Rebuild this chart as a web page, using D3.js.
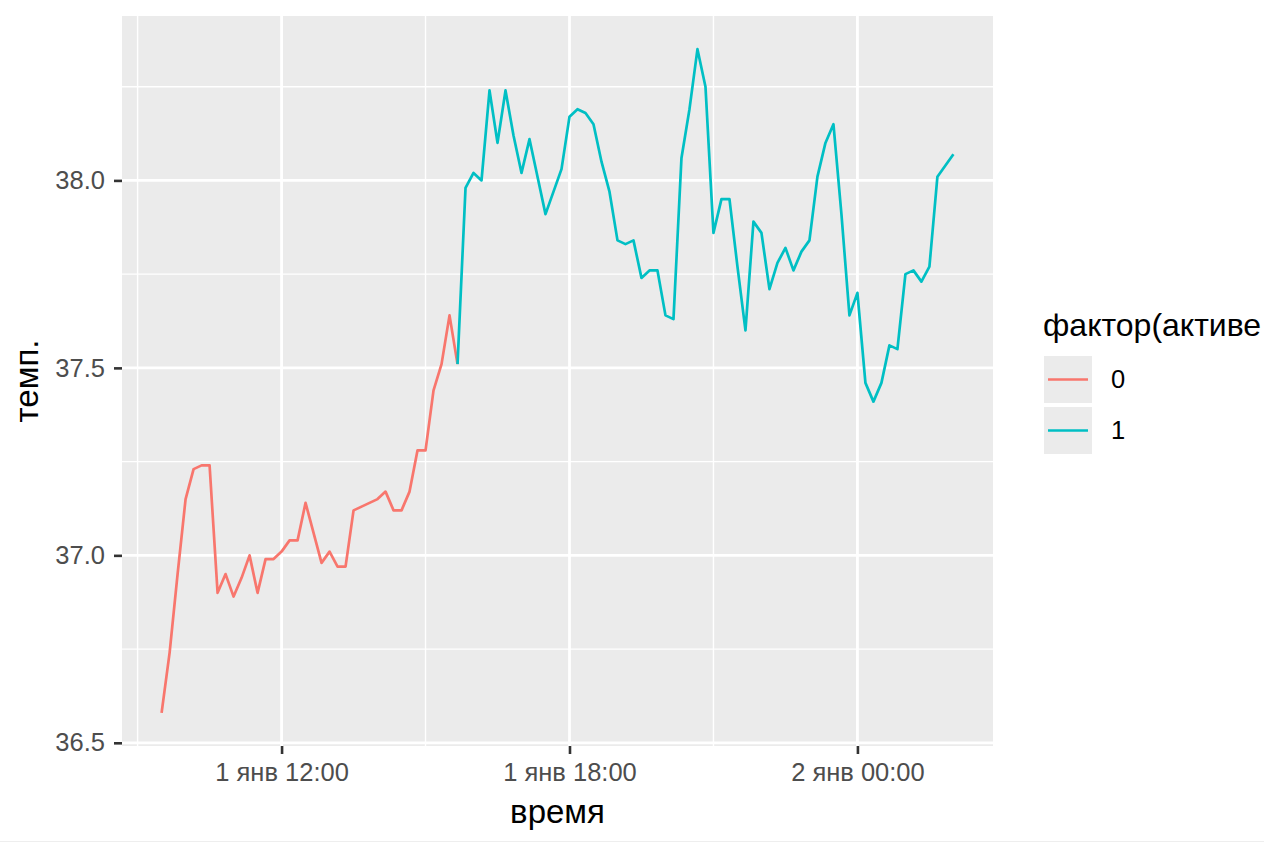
<!DOCTYPE html>
<html>
<head>
<meta charset="utf-8">
<script src="https://cdn.jsdelivr.net/npm/d3@7"></script>
<style>
  html, body { margin: 0; padding: 0; background: #ffffff; }
  svg { display: block; font-family: "Liberation Sans", Arial, Helvetica, sans-serif; }
</style>
</head>
<body>
<svg id="chart" width="1264" height="843"></svg>
<script>
// ---------------- data ----------------
const times0 = [
  "2020-01-01T09:30","2020-01-01T09:40","2020-01-01T09:50","2020-01-01T10:00","2020-01-01T10:10",
  "2020-01-01T10:20","2020-01-01T10:30","2020-01-01T10:40","2020-01-01T10:50","2020-01-01T11:00",
  "2020-01-01T11:10","2020-01-01T11:20","2020-01-01T11:30","2020-01-01T11:40","2020-01-01T11:50",
  "2020-01-01T12:00","2020-01-01T12:10","2020-01-01T12:20","2020-01-01T12:30","2020-01-01T12:40",
  "2020-01-01T12:50","2020-01-01T13:00","2020-01-01T13:10","2020-01-01T13:20","2020-01-01T13:30",
  "2020-01-01T13:40","2020-01-01T13:50","2020-01-01T14:00","2020-01-01T14:10","2020-01-01T14:20",
  "2020-01-01T14:30","2020-01-01T14:40","2020-01-01T14:50","2020-01-01T15:00","2020-01-01T15:10",
  "2020-01-01T15:20","2020-01-01T15:30","2020-01-01T15:40"
];
const temps0 = [
  36.58, 36.74, 36.95, 37.15, 37.23,
  37.24, 37.24, 36.90, 36.95, 36.89,
  36.94, 37.00, 36.90, 36.99, 36.99,
  37.01, 37.04, 37.04, 37.14, 37.06,
  36.98, 37.01, 36.97, 36.97, 37.12,
  37.13, 37.14, 37.15, 37.17, 37.12,
  37.12, 37.17, 37.28, 37.28, 37.44,
  37.51, 37.64, 37.51
];
const times1 = [
  "2020-01-01T15:40","2020-01-01T15:50","2020-01-01T16:00","2020-01-01T16:10","2020-01-01T16:20",
  "2020-01-01T16:30","2020-01-01T16:40","2020-01-01T16:50","2020-01-01T17:00","2020-01-01T17:10",
  "2020-01-01T17:20","2020-01-01T17:30","2020-01-01T17:40","2020-01-01T17:50","2020-01-01T18:00",
  "2020-01-01T18:10","2020-01-01T18:20","2020-01-01T18:30","2020-01-01T18:40","2020-01-01T18:50",
  "2020-01-01T19:00","2020-01-01T19:10","2020-01-01T19:20","2020-01-01T19:30","2020-01-01T19:40",
  "2020-01-01T19:50","2020-01-01T20:00","2020-01-01T20:10","2020-01-01T20:20","2020-01-01T20:30",
  "2020-01-01T20:40","2020-01-01T20:50","2020-01-01T21:00","2020-01-01T21:10","2020-01-01T21:20",
  "2020-01-01T21:30","2020-01-01T21:40","2020-01-01T21:50","2020-01-01T22:00","2020-01-01T22:10",
  "2020-01-01T22:20","2020-01-01T22:30","2020-01-01T22:40","2020-01-01T22:50","2020-01-01T23:00",
  "2020-01-01T23:10","2020-01-01T23:20","2020-01-01T23:30","2020-01-01T23:40","2020-01-01T23:50",
  "2020-01-02T00:00","2020-01-02T00:10","2020-01-02T00:20","2020-01-02T00:30","2020-01-02T00:40",
  "2020-01-02T00:50","2020-01-02T01:00","2020-01-02T01:10","2020-01-02T01:20","2020-01-02T01:30",
  "2020-01-02T01:40","2020-01-02T01:50","2020-01-02T02:00"
];
const temps1 = [
  37.51, 37.98, 38.02, 38.00, 38.24,
  38.10, 38.24, 38.12, 38.02, 38.11,
  38.01, 37.91, 37.97, 38.03, 38.17,
  38.19, 38.18, 38.15, 38.05, 37.97,
  37.84, 37.83, 37.84, 37.74, 37.76,
  37.76, 37.64, 37.63, 38.06, 38.19,
  38.35, 38.25, 37.86, 37.95, 37.95,
  37.77, 37.60, 37.89, 37.86, 37.71,
  37.78, 37.82, 37.76, 37.81, 37.84,
  38.01, 38.10, 38.15, 37.91, 37.64,
  37.70, 37.46, 37.41, 37.46, 37.56,
  37.55, 37.75, 37.76, 37.73, 37.77,
  38.01, 38.04, 38.07
];
const seriesKeys = ["0", "1"];
const seriesColors = ["#F8766D", "#00BFC4"];
const yTicks = [36.5, 37.0, 37.5, 38.0];
const monthNames = ["янв","фев","мар","апр","мая","июн","июл","авг","сен","окт","ноя","дек"];
const xTitle = "время";
const yTitle = "темп.";
const legendTitle = "фактор(активе";

// ---------------- layout ----------------
const W = 1264, H = 843;
const panel = { left: 122, top: 16, right: 993, bottom: 746 };
const tickFont = "25.5px";
const titleFont = "33px";
const legendTitleFont = "32px";

const parse = d3.timeParse("%Y-%m-%dT%H:%M");
const series = [
  { key: seriesKeys[0], color: seriesColors[0], pts: times0.map((t, i) => ({ t: parse(t), v: temps0[i] })) },
  { key: seriesKeys[1], color: seriesColors[1], pts: times1.map((t, i) => ({ t: parse(t), v: temps1[i] })) }
];
const allPts = series.flatMap(s => s.pts);

// ggplot-style 5% expansion
const tExt = d3.extent(allPts, d => +d.t);
const tPad = (tExt[1] - tExt[0]) * 0.05;
const vExt = d3.extent(allPts, d => d.v);
const vPad = (vExt[1] - vExt[0]) * 0.05;

const x = d3.scaleTime()
  .domain([new Date(tExt[0] - tPad), new Date(tExt[1] + tPad)])
  .range([panel.left, panel.right]);
const y = d3.scaleLinear()
  .domain([vExt[0] - vPad, vExt[1] + vPad])
  .range([panel.bottom, panel.top]);

const svg = d3.select("#chart");
svg.append("rect").attr("width", W).attr("height", H).attr("fill", "#ffffff");

// panel background
svg.append("rect")
  .attr("x", panel.left).attr("y", panel.top)
  .attr("width", panel.right - panel.left).attr("height", panel.bottom - panel.top)
  .attr("fill", "#EBEBEB");

// grid
const xMajor = x.ticks(d3.timeHour.every(6));
const xMinor = x.ticks(d3.timeHour.every(3)).filter(d => !xMajor.some(m => +m === +d));
const yMinor = d3.range(yTicks.length + 1)
  .map(i => (i === 0 ? yTicks[0] - 0.25 : yTicks[i - 1] + 0.25))
  .filter(v => v > y.domain()[0] && v < y.domain()[1]);

const grid = svg.append("g");
grid.selectAll("line.ymin").data(yMinor).join("line")
  .attr("x1", panel.left).attr("x2", panel.right)
  .attr("y1", d => y(d)).attr("y2", d => y(d))
  .attr("stroke", "#ffffff").attr("stroke-width", 1.4);
grid.selectAll("line.xmin").data(xMinor).join("line")
  .attr("y1", panel.top).attr("y2", panel.bottom)
  .attr("x1", d => x(d)).attr("x2", d => x(d))
  .attr("stroke", "#ffffff").attr("stroke-width", 1.4);
grid.selectAll("line.ymaj").data(yTicks).join("line")
  .attr("x1", panel.left).attr("x2", panel.right)
  .attr("y1", d => y(d)).attr("y2", d => y(d))
  .attr("stroke", "#ffffff").attr("stroke-width", 2.8);
grid.selectAll("line.xmaj").data(xMajor).join("line")
  .attr("y1", panel.top).attr("y2", panel.bottom)
  .attr("x1", d => x(d)).attr("x2", d => x(d))
  .attr("stroke", "#ffffff").attr("stroke-width", 2.8);

// lines
const line = d3.line().x(d => x(d.t)).y(d => y(d.v));
svg.append("g").selectAll("path").data(series).join("path")
  .attr("d", d => line(d.pts))
  .attr("fill", "none")
  .attr("stroke", d => d.color)
  .attr("stroke-width", 2.7)
  .attr("stroke-linejoin", "round")
  .attr("stroke-linecap", "butt");

// axes
const pad2 = n => String(n).padStart(2, "0");
const fmtTime = d => `${d.getDate()} ${monthNames[d.getMonth()]} ${pad2(d.getHours())}:${pad2(d.getMinutes())}`;

const xAxis = svg.append("g")
  .attr("transform", `translate(0,${panel.bottom})`)
  .call(d3.axisBottom(x).tickValues(xMajor).tickFormat(fmtTime).tickSize(8).tickPadding(9));
const yAxis = svg.append("g")
  .attr("transform", `translate(${panel.left},0)`)
  .call(d3.axisLeft(y).tickValues(yTicks).tickFormat(d3.format(".1f")).tickSize(8).tickPadding(9));

[xAxis, yAxis].forEach(a => {
  a.select(".domain").remove();
  a.selectAll(".tick line").attr("stroke", "#333333").attr("stroke-width", 2.6);
  a.selectAll(".tick text")
    .attr("fill", "#4D4D4D")
    .style("font-size", tickFont)
    .style("font-family", "'Liberation Sans', Arial, Helvetica, sans-serif");
});

// titles
svg.append("text")
  .attr("x", (panel.left + panel.right) / 2).attr("y", 823)
  .attr("text-anchor", "middle")
  .attr("fill", "#000000").style("font-size", titleFont)
  .text(xTitle);
svg.append("text")
  .attr("transform", `translate(38,${(panel.top + panel.bottom) / 2}) rotate(-90)`)
  .attr("text-anchor", "middle")
  .attr("fill", "#000000").style("font-size", titleFont)
  .text(yTitle);

// legend
const lg = svg.append("g");
lg.append("text")
  .attr("x", 1043).attr("y", 336)
  .attr("fill", "#000000").style("font-size", legendTitleFont)
  .text(legendTitle);
const keyX = 1044, keyY0 = 356, keyW = 48, keyH = 47, keyGap = 4;
const items = lg.selectAll("g.item").data(series).join("g")
  .attr("transform", (d, i) => `translate(${keyX},${keyY0 + i * (keyH + keyGap)})`);
items.append("rect")
  .attr("width", keyW).attr("height", keyH)
  .attr("fill", "#EBEBEB");
items.append("line")
  .attr("x1", 4).attr("x2", keyW - 4)
  .attr("y1", keyH / 2).attr("y2", keyH / 2)
  .attr("stroke", d => d.color).attr("stroke-width", 2.7);
items.append("text")
  .attr("x", keyW + 19).attr("y", keyH / 2)
  .attr("dy", "0.35em")
  .attr("fill", "#000000").style("font-size", tickFont)
  .text(d => d.key);

// faint bottom frame line
svg.append("line")
  .attr("x1", 0).attr("x2", W).attr("y1", H - 1.5).attr("y2", H - 1.5)
  .attr("stroke", "#EEEEEE").attr("stroke-width", 1);
</script>
</body>
</html>
